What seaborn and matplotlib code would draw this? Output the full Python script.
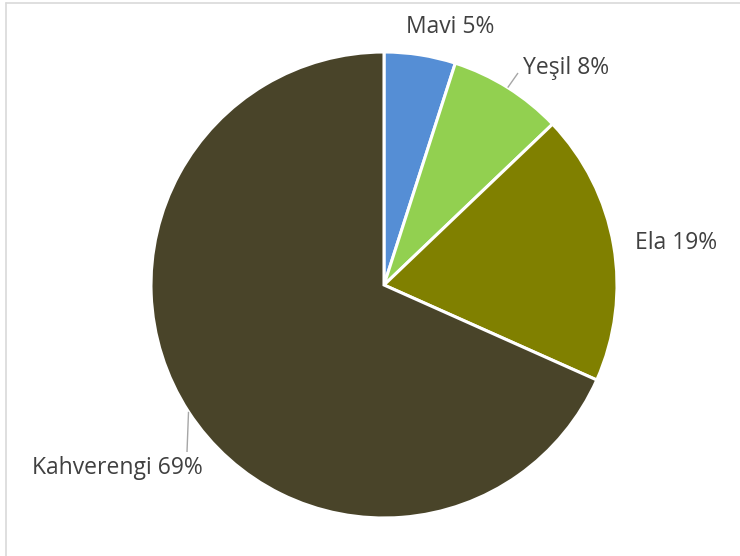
import matplotlib
matplotlib.use("Agg")
import matplotlib.pyplot as plt
import seaborn as sns
import numpy as np

# Data
categories = ["Mavi", "Yeşil", "Ela", "Kahverengi"]
values = [5, 8, 19, 69]
colors = ["#558ED5", "#92D050", "#808000", "#494429"]

sns.set_theme(style="white")
plt.rcParams["font.family"] = ["Open Sans", "DejaVu Sans"]

W, H = 740, 556
CX, CY, R = 384, 285, 233  # pie centre and radius in pixels (layout)

fig = plt.figure(figsize=(W / 100, H / 100), dpi=100)
ax = fig.add_axes([0, 0, 1, 1])

palette = sns.color_palette(colors)
wedges, _ = ax.pie(values, colors=palette, startangle=90, counterclock=False,
                   radius=R, center=(0, 0),
                   wedgeprops=dict(edgecolor="white", linewidth=2.2))

ax.set_xlim(-CX, W - CX)
ax.set_ylim(-(H - CY), CY)
ax.set_aspect("equal")
ax.axis("off")

def px(x, y):
    return x - CX, CY - y

# label layout: (centre x px, baseline y px, leader end px or None)
label_layout = [
    (450, 33, None),
    (566.5, 74, (518, 73)),
    (676, 249, None),
    (117.5, 474, (187, 452)),
]

text_color = "#404040"
for w, cat, val, (lx, ly, lead) in zip(wedges, categories, values, label_layout):
    mid = np.deg2rad((w.theta1 + w.theta2) / 2)
    ex, ey = R * np.cos(mid), R * np.sin(mid)
    if lead is not None:
        tx, ty = px(*lead)
        ax.plot([ex, tx], [ey, ty], color="#A6A6A6", lw=1.0, solid_capstyle="butt")
    x, y = px(lx, ly)
    ax.text(x, y, f"{cat} {val}%", ha="center", va="baseline",
            fontsize=16.5, color=text_color)

# chart frame (cropped border)
bx0, by0 = px(5.5, 3)
ax.plot([bx0, W - CX], [by0, by0], color="#D9D9D9", lw=1.2, clip_on=False)
ax.plot([bx0, bx0], [by0, -(H - CY)], color="#D9D9D9", lw=1.2, clip_on=False)

fig.savefig("out.png", dpi=100, facecolor="white")
